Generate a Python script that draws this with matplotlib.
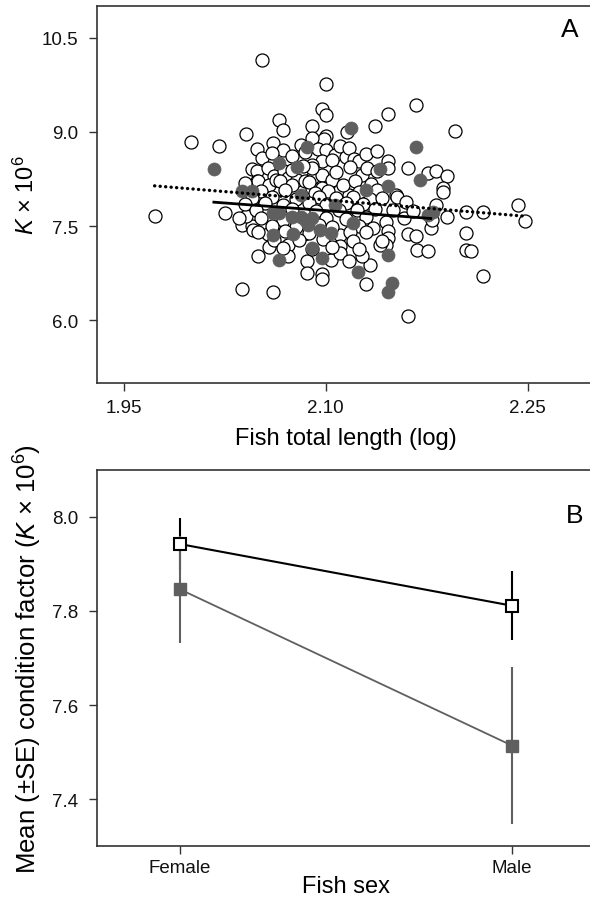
import matplotlib
matplotlib.use("Agg")
import matplotlib.pyplot as plt

plt.rcParams["font.family"] = ["Liberation Sans", "DejaVu Sans"]
plt.rcParams["mathtext.fontset"] = "custom"
plt.rcParams["mathtext.rm"] = "Liberation Sans"
plt.rcParams["mathtext.it"] = "Liberation Sans:italic"

# Panel A: open circles (one group) and filled circles (other group)
open_x = [2.053, 2.100, 2.097, 2.100, 2.065, 2.068, 2.090, 2.041, 2.000, 2.021,
          2.116, 2.082, 2.061, 2.068, 2.049, 2.053, 2.100, 2.099, 2.090, 2.094,
          2.100, 2.107, 2.111, 2.115, 2.097, 2.105, 2.117, 2.121, 2.125, 2.127,
          2.131, 2.146, 2.146, 2.161, 2.176, 2.182, 2.190, 2.187, 2.187, 2.152,
          2.137, 2.146, 2.167, 2.196, 2.090, 2.090, 2.090, 2.097, 2.097, 2.111,
          2.117, 2.045, 2.049, 2.057, 2.062, 2.069, 2.090, 2.049, 2.072, 2.079,
          2.085, 2.054, 2.050, 2.058, 2.063,
          1.973, 2.025, 2.038, 2.045, 2.041, 2.036, 2.046, 2.069, 2.057, 2.058,
          2.050, 2.072, 2.072, 2.084, 2.086, 2.086, 2.097, 2.097, 2.104, 2.111,
          2.111, 2.111, 2.038, 2.061,
          2.130, 2.161, 2.217, 2.204, 2.204, 2.208, 2.168, 2.176, 2.161, 2.167,
          2.178, 2.179, 2.182, 2.190, 2.204, 2.217, 2.243, 2.248, 2.158, 2.153,
          2.150, 2.145, 2.146, 2.146, 2.145, 2.133, 2.127, 2.117, 2.140, 2.142,
          # dense core
          2.040, 2.066, 2.075, 2.088, 2.105, 2.113, 2.122, 2.134,
          2.052, 2.070, 2.092, 2.102, 2.125, 2.138,
          2.045, 2.060, 2.078, 2.095, 2.108, 2.120, 2.133, 2.142,
          2.040, 2.055, 2.068, 2.088, 2.100, 2.115, 2.128, 2.160,
          2.048, 2.075, 2.093, 2.110, 2.123, 2.137, 2.165,
          2.052, 2.068, 2.100, 2.115, 2.130,
          2.060, 2.078, 2.095, 2.105, 2.125, 2.135,
          2.050, 2.070, 2.088, 2.118, 2.130,
          2.062, 2.080, 2.098, 2.120,
          2.068, 2.090, 2.105, 2.125,
          2.075, 2.083, 2.108, 2.118, 2.138,
          2.060, 2.075, 2.085, 2.130, 2.138]
open_y = [10.14, 9.77, 9.36, 9.27, 9.19, 9.03, 9.10, 8.96, 8.84, 8.77,
          9.00, 8.79, 8.82, 8.71, 8.73, 8.59, 8.94, 8.89, 8.90, 8.73,
          8.71, 8.63, 8.77, 8.60, 8.53, 8.55, 8.74, 8.57, 8.53, 8.32,
          8.42, 8.53, 8.42, 8.42, 8.35, 8.38, 8.29, 8.10, 8.04, 7.99,
          9.10, 9.29, 9.43, 9.01, 8.48, 8.26, 8.10, 8.32, 8.10, 8.08,
          8.00, 8.41, 8.38, 8.42, 8.29, 8.37, 8.42, 8.22, 8.26, 8.24,
          8.21, 7.92, 8.21, 8.16, 8.24,
          7.66, 7.70, 7.52, 7.50, 7.66, 7.63, 7.44, 7.52, 7.37, 7.16,
          7.03, 7.19, 7.02, 7.37, 6.94, 6.75, 6.73, 6.65, 6.96, 7.36,
          7.18, 7.07, 6.49, 6.45,
          6.58, 6.06, 6.71, 7.39, 7.12, 7.10, 7.12, 7.11, 7.37, 7.34,
          7.47, 7.60, 7.83, 7.64, 7.72, 7.72, 7.84, 7.58, 7.63, 7.97,
          7.76, 7.57, 7.42, 7.31, 7.20, 6.88, 7.02, 6.94, 7.20, 7.26,
          8.18, 8.22, 8.15, 8.20, 8.24, 8.16, 8.21, 8.17,
          8.05, 8.07, 8.03, 8.06, 8.04, 8.07,
          7.95, 7.97, 7.93, 7.96, 7.94, 7.97, 7.93, 7.95,
          7.85, 7.87, 7.84, 7.86, 7.83, 7.86, 7.85, 7.88,
          7.75, 7.77, 7.74, 7.76, 7.75, 7.77, 7.74,
          7.62, 7.60, 7.63, 7.61, 7.64,
          7.50, 7.48, 7.51, 7.49, 7.50, 7.47,
          7.40, 7.42, 7.39, 7.41, 7.40,
          7.28, 7.27, 7.29, 7.26,
          7.15, 7.13, 7.16, 7.14,
          8.40, 8.45, 8.36, 8.44, 8.38,
          8.66, 8.62, 8.68, 8.64, 8.70]

filled_x = [2.017, 2.119, 2.086, 2.065, 2.079, 2.045, 2.082, 2.038, 2.061, 2.065,
            2.061, 2.065, 2.076, 2.075, 2.082, 2.085, 2.090, 2.087, 2.090, 2.097,
            2.096, 2.104, 2.107, 2.120, 2.167, 2.140, 2.170, 2.146, 2.130, 2.124,
            2.146, 2.149, 2.146, 2.176, 2.180]
filled_y = [8.41, 9.06, 8.76, 8.50, 8.44, 8.06, 8.00, 8.05, 7.71, 7.71,
            7.35, 6.96, 7.37, 7.65, 7.65, 7.60, 7.63, 7.52, 7.15, 6.99,
            7.44, 7.39, 7.84, 7.55, 8.76, 8.41, 8.24, 8.13, 8.08, 6.77,
            7.04, 6.60, 6.45, 7.68, 7.73]

# fitted lines (end points)
fit_open_x = [1.973, 2.246]
fit_open_y = [8.14, 7.66]
fit_filled_x = [2.017, 2.178]
fit_filled_y = [7.88, 7.62]

# Panel B: means and SE by sex
sexes = ["Female", "Male"]
open_mean = [7.942, 7.811]
open_se = [0.055, 0.073]
filled_mean = [7.846, 7.514]
filled_se = [0.114, 0.167]

grey = "#5f5f5f"
spine_col = "#333333"

fig = plt.figure(figsize=(5.9, 9.03), dpi=100)
axA = fig.add_axes([0.1639, 0.5748, 0.8446, 0.4171])
axB = fig.add_axes([0.1639, 0.0617, 0.8446, 0.4171])

for ax in (axA, axB):
    for s in ax.spines.values():
        s.set_linewidth(1.2)
        s.set_color(spine_col)
    ax.tick_params(direction="out", length=6, width=1.0, color=spine_col,
                   labelsize=13.5, labelcolor="#111111")
    ax.tick_params(axis="y", pad=7.5)

# ---- Panel A
axA.scatter(open_x, open_y, s=88, facecolor="white", edgecolor="black",
            linewidth=0.9, zorder=2)
axA.scatter(filled_x, filled_y, s=88, facecolor=grey, edgecolor=grey,
            linewidth=0.5, zorder=3)
axA.plot(fit_open_x, fit_open_y, color="black", lw=2.4, ls=(0, (0.05, 1.6)),
         dash_capstyle="round", zorder=4)
axA.plot(fit_filled_x, fit_filled_y, color="black", lw=2.0, zorder=4)
axA.set_xlim(1.93, 2.30)
axA.set_ylim(5.0, 11.0)
axA.set_xticks([1.95, 2.10, 2.25])
axA.set_yticks([6.0, 7.5, 9.0, 10.5])
axA.tick_params(axis="x", pad=5.5)
axA.set_xlabel("Fish total length (log)", fontsize=17)
axA.xaxis.set_label_coords(0.5, -0.118)
axA.set_ylabel(r"$K$ × 10$^{6}$", fontsize=17)
axA.yaxis.set_label_coords(-0.115, 0.5)
axA.text(0.95, 0.94, "A", transform=axA.transAxes, fontsize=19,
         ha="center", va="center")

# ---- Panel B
xpos = [0, 1]
axB.errorbar(xpos, open_mean, yerr=open_se, fmt="none", ecolor="black",
             elinewidth=1.5, capsize=0, zorder=2)
axB.errorbar(xpos, filled_mean, yerr=filled_se, fmt="none", ecolor=grey,
             elinewidth=1.5, capsize=0, zorder=3)
axB.plot(xpos, open_mean, color="black", lw=1.5, zorder=4)
axB.plot(xpos, filled_mean, color=grey, lw=1.3, zorder=4)
axB.plot(xpos, open_mean, ls="none", marker="s", ms=9, mfc="white",
         mec="black", mew=1.5, zorder=5)
axB.plot(xpos, filled_mean, ls="none", marker="s", ms=9, mfc=grey,
         mec=grey, mew=1.0, zorder=5)
axB.set_xlim(-0.25, 1.25)
axB.set_ylim(7.3, 8.1)
axB.set_xticks(xpos)
axB.set_xticklabels(sexes)
axB.set_yticks([7.4, 7.6, 7.8, 8.0])
axB.tick_params(axis="x", pad=3.5)
axB.set_xlabel("Fish sex", fontsize=17)
axB.xaxis.set_label_coords(0.5, -0.075)
axB.set_ylabel(r"Mean (±SE) condition factor ($K$ × 10$^{6}$)", fontsize=18.5)
axB.yaxis.set_label_coords(-0.105, 0.5)
axB.text(0.96, 0.88, "B", transform=axB.transAxes, fontsize=19,
         ha="center", va="center")

fig.savefig("out.png", dpi=100)
